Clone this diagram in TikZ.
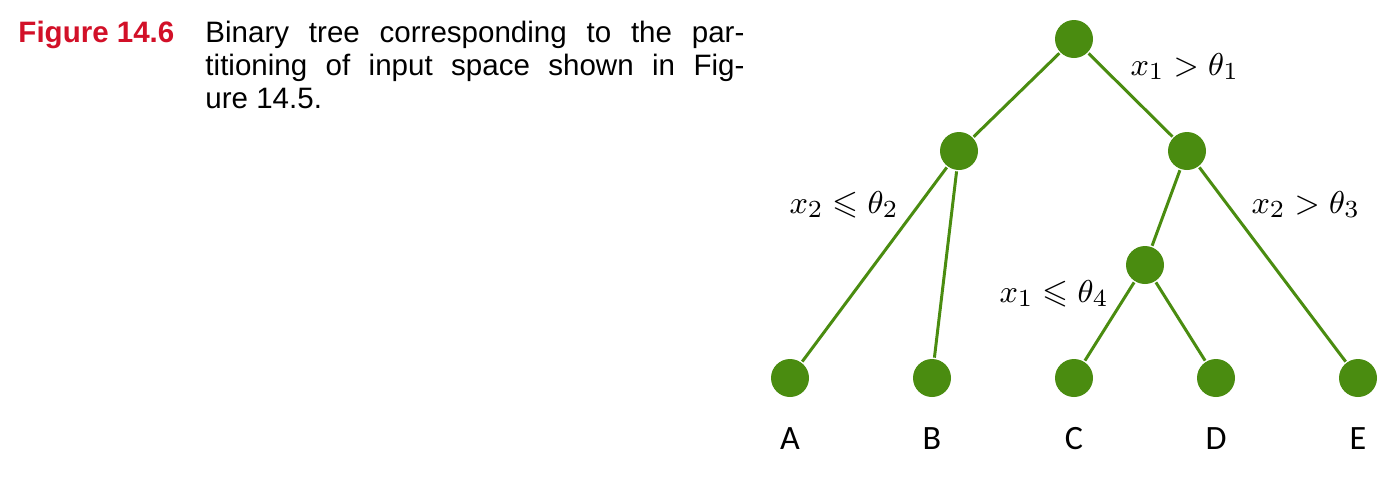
\documentclass[tikz,border=0pt]{standalone}
\usepackage{amsmath}
\usepackage{amssymb}
\usepackage{fontspec}
\usepackage{tikz}
\usetikzlibrary{positioning}
\newfontfamily\capfont{Liberation Sans}
\newfontfamily\leaffont{Carlito}
\definecolor{treegreen}{RGB}{74,140,16}
\definecolor{figred}{RGB}{210,16,40}
\tikzstyle{treenode}=[circle,fill=treegreen,minimum size=0.38cm,inner sep=0pt]
\tikzstyle{leaflabel}=[font=\leaffont\fontsize{9.7}{11}\selectfont]
\tikzstyle{splitlabel}=[anchor=base west,inner sep=0pt,font=\fontsize{9.5}{11}\selectfont]

\begin{document}
\begin{tikzpicture}[draw=treegreen, line width=0.85pt, on grid]
  \useasboundingbox (0,0) rectangle (14,-4.79);
  % caption
  \node[anchor=base west, inner sep=0pt, text=figred, font=\capfont\bfseries\fontsize{8.4}{9.4}\selectfont] (figno) at (0.17,-0.42) {Figure 14.6};
  \node[anchor=base west, inner sep=0pt, font=\capfont\fontsize{8.4}{9.4}\selectfont] (captext) at (2.04,-0.42)
    {\vtop{\hbox{\makebox[5.39cm][s]{Binary tree corresponding to the par-}}
           \hbox{\makebox[5.39cm][s]{titioning of input space shown in Fig-}}
           \hbox{ure 14.5.}}};

  % tree
  \node[treenode] (root) at (10.74,-0.39) {};
  \node[treenode, below left = 1.12cm and 1.15cm of root] (n2) {};
  \node[treenode, below right = 1.12cm and 1.13cm of root] (n3) {};
  \node[treenode, below left = 1.14cm and 0.42cm of n3] (n4) {};

  \node[treenode, below = 3.39cm of root] (leafC) {};
  \node[treenode, left = 1.42cm of leafC] (leafB) {};
  \node[treenode, left = 1.42cm of leafB] (leafA) {};
  \node[treenode, right = 1.42cm of leafC] (leafD) {};
  \node[treenode, right = 1.42cm of leafD] (leafE) {};

  \path (root) edge (n2);
  \path (root) edge (n3);
  \path (n2) edge (leafA);
  \path (n2) edge (leafB);
  \path (n3) edge (n4);
  \path (n3) edge (leafE);
  \path (n4) edge (leafC);
  \path (n4) edge (leafD);

  % split conditions
  \node[splitlabel] (s1) at (11.29,-0.75) {$x_1 > \theta_1$};
  \node[splitlabel] (s2) at (7.88,-2.13) {$x_2 \leqslant \theta_2$};
  \node[splitlabel] (s3) at (12.50,-2.13) {$x_2 > \theta_3$};
  \node[splitlabel] (s4) at (9.98,-3.02) {$x_1 \leqslant \theta_4$};

  % leaf names
  \node[leaflabel, below = 0.61cm of leafA] (labA) {A};
  \node[leaflabel, below = 0.61cm of leafB] (labB) {B};
  \node[leaflabel, below = 0.61cm of leafC] (labC) {C};
  \node[leaflabel, below = 0.61cm of leafD] (labD) {D};
  \node[leaflabel, below = 0.61cm of leafE] (labE) {E};
\end{tikzpicture}
\end{document}
